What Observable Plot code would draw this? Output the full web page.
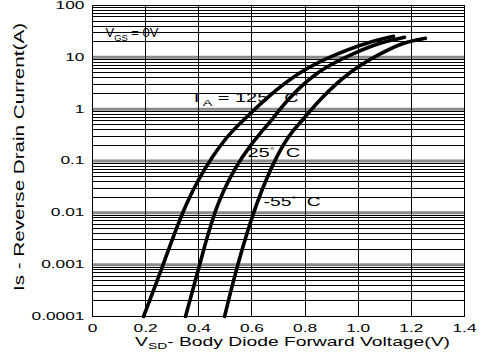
<!DOCTYPE html>
<html>
<head>
<meta charset="utf-8">
<script src="https://cdn.jsdelivr.net/npm/d3@7"></script>
<script src="https://cdn.jsdelivr.net/npm/@observablehq/plot@0.6"></script>
<style>
  html, body { margin: 0; padding: 0; background: #fff; }
  #chart svg { display: block; }
</style>
</head>
<body>
<div id="chart"></div>
<script>
// Axis ticks and their labels
const xTicks = [0, 0.2, 0.4, 0.6, 0.8, 1.0, 1.2, 1.4];
const xTickLabels = ["0", "0.2", "0.4", "0.6", "0.8", "1.0", "1.2", "1.4"];
const yTicks = [0.0001, 0.001, 0.01, 0.1, 1, 10, 100];
const yTickLabels = ["0.0001", "0.001", "0.01", "0.1", "1", "10", "100"];
const minorSteps = [2, 3, 4, 5, 6, 7, 8, 9];

// Body diode forward characteristics, one pair of arrays per temperature
const vsd125 = [0.192, 0.263, 0.350, 0.456, 0.527, 0.572, 0.643, 0.783, 0.922, 1.035, 1.133];
const is125  = [0.0001, 0.00088, 0.0166, 0.14, 0.39, 0.635, 1.48, 5.6, 11.9, 19.5, 25.4];
const vsd25  = [0.350, 0.401, 0.466, 0.568, 0.640, 0.677, 0.730, 0.847, 0.982, 1.084, 1.174];
const is25   = [0.0001, 0.00088, 0.0166, 0.14, 0.39, 0.635, 1.48, 5.6, 11.9, 19.5, 24.3];
const vsdM55 = [0.497, 0.542, 0.617, 0.696, 0.753, 0.794, 0.851, 0.971, 1.084, 1.170, 1.253];
const isM55  = [0.0001, 0.00088, 0.0166, 0.14, 0.39, 0.635, 1.48, 5.6, 11.9, 19.5, 23.3];

// In-plot annotations (markup: _{sub}, ^{sup})
const noteText = ["V_{GS} = 0V", "T_{A} = 125^{°}\u00a0\u00a0C", "25^{°}\u00a0\u00a0C", "-55^{°}\u00a0\u00a0C"];
const noteX = [0.049, 0.369, 0.583, 0.644];
const noteY = [30.4, 1.69, 0.147, 0.0166];
const noteWidth = [53, 108, 53, 57];

const xLabel = "V_{SD}- Body Diode Forward Voltage(V)";
const yLabel = "Is - Reverse Drain Current(A)";

const curves = [
  ...vsd125.map((v, i) => ({series: "125", v, is: is125[i]})),
  ...vsd25.map((v, i) => ({series: "25", v, is: is25[i]})),
  ...vsdM55.map((v, i) => ({series: "-55", v, is: isM55[i]}))
];

// Minor log grid: 2..9 within each decade
const minorLines = [];
for (const decade of yTicks.slice(0, -1)) for (const m of minorSteps) minorLines.push(decade * m);

const notes = noteText.map((t, i) => ({t, x: noteX[i], y: noteY[i]}));

const plot = Plot.plot({
  width: 495,
  height: 363,
  marginLeft: 92,
  marginRight: 31,
  marginTop: 5,
  marginBottom: 47,
  style: {fontFamily: "'Liberation Sans', Arial, sans-serif", fontSize: "10.5px", color: "#000", background: "#fff"},
  x: {domain: [0, 1.4], ticks: xTicks, tickFormat: d => xTickLabels[xTicks.indexOf(d)], tickSize: 0, tickPadding: 8, label: null},
  y: {type: "log", domain: [0.0001, 100], ticks: yTicks, tickFormat: d => yTickLabels[yTicks.indexOf(d)], tickSize: 0, tickPadding: 8, label: null},
  marks: [
    Plot.ruleY(minorLines, {stroke: "#000", strokeWidth: 1, shapeRendering: "crispEdges"}),
    Plot.ruleY(yTicks.slice(1, -1), {stroke: "#8a8a8a", strokeWidth: 3}),
    Plot.ruleX(xTicks.slice(1, -1), {stroke: "#000", strokeWidth: 1, shapeRendering: "crispEdges"}),
    Plot.frame({stroke: "#000", strokeWidth: 1}),
    Plot.line(curves, {x: "v", y: "is", z: "series", stroke: "#000", strokeWidth: 3.6, curve: "basis"}),
    Plot.text(notes, {x: "x", y: "y", text: "t", textAnchor: "start", fontSize: 13.5, fill: "#000"}),
    Plot.text([xLabel], {frameAnchor: "bottom", textAnchor: "middle", dx: 14, dy: 29, fontSize: 12.5, fill: "#000"}),
    Plot.text([yLabel], {frameAnchor: "left", textAnchor: "middle", rotate: -90, dx: -73, dy: -4, fontSize: 15, fill: "#000"})
  ]
});

document.getElementById("chart").append(plot);

// Target widths for the labels that are drawn wide
const widths = new Map(noteText.map((t, i) => [t, noteWidth[i]]));
widths.set(xLabel, 315);
widths.set(yLabel, 268);

d3.select(plot).selectAll("text").each(function () {
  const el = this;
  const raw = el.textContent;
  const target = widths.get(raw);
  if (/[_^]\{/.test(raw)) {
    const size = parseFloat(getComputedStyle(el).fontSize) || 11;
    el.textContent = "";
    const re = /([_^])\{([^}]*)\}|([^_^]+)/g;
    let m, shift = 0;
    while ((m = re.exec(raw))) {
      const span = document.createElementNS("http://www.w3.org/2000/svg", "tspan");
      let next = 0, text;
      if (m[1] === "_") { next = 0.3 * size; text = m[2]; span.setAttribute("font-size", 0.72 * size); }
      else if (m[1] === "^") { next = -0.25 * size; text = m[2]; span.setAttribute("font-size", 0.6 * size); }
      else { text = m[3]; }
      if (next !== shift) span.setAttribute("dy", next - shift);
      shift = next;
      span.textContent = text;
      el.appendChild(span);
    }
  }
  const natural = el.getComputedTextLength();
  const len = target !== undefined ? target : natural * 1.65;
  el.setAttribute("textLength", len);
  el.setAttribute("lengthAdjust", "spacingAndGlyphs");
});
</script>
</body>
</html>
